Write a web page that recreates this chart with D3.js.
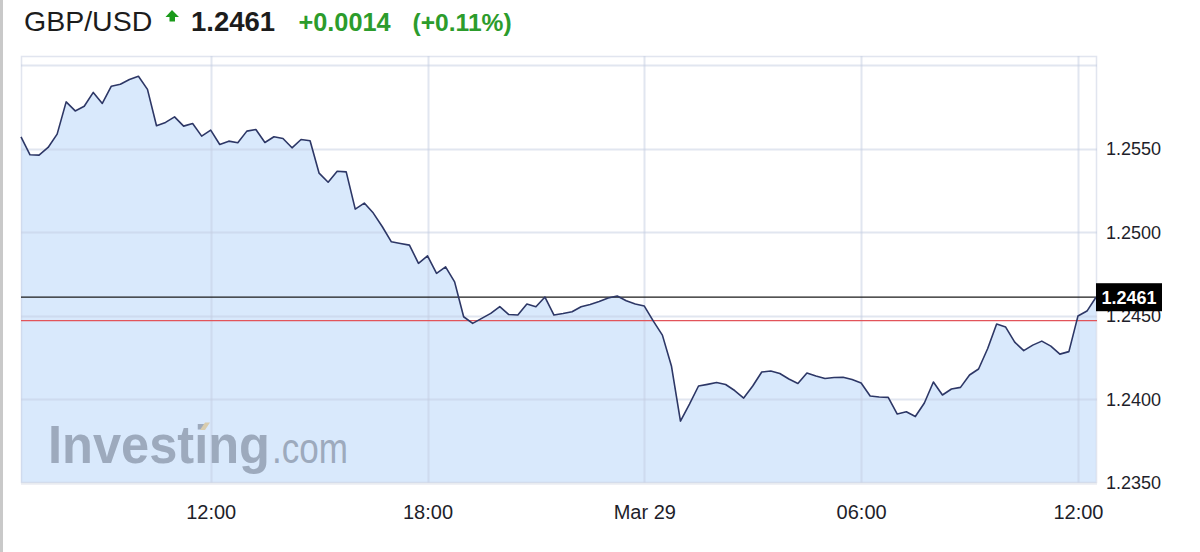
<!DOCTYPE html>
<html>
<head>
<meta charset="utf-8">
<script src="https://cdn.jsdelivr.net/npm/d3@7"></script>
<style>
  html, body { margin: 0; padding: 0; background: #fff; }
  svg { display: block; font-family: "Liberation Sans", Arial, sans-serif; }
</style>
</head>
<body>
<svg id="chart" width="1200" height="552"></svg>
<script>
// ---- data ----
const times = [
  "03-28 06:45","03-28 07:00","03-28 07:15","03-28 07:30","03-28 07:45","03-28 08:00","03-28 08:15","03-28 08:30",
  "03-28 08:45","03-28 09:00","03-28 09:15","03-28 09:30","03-28 09:45","03-28 10:00","03-28 10:15","03-28 10:30",
  "03-28 10:45","03-28 11:00","03-28 11:15","03-28 11:30","03-28 11:45","03-28 12:00","03-28 12:15","03-28 12:30",
  "03-28 12:45","03-28 13:00","03-28 13:15","03-28 13:30","03-28 13:45","03-28 14:00","03-28 14:15","03-28 14:30",
  "03-28 14:45","03-28 15:00","03-28 15:15","03-28 15:30","03-28 15:45","03-28 16:00","03-28 16:15","03-28 16:30",
  "03-28 16:45","03-28 17:00","03-28 17:15","03-28 17:30","03-28 17:45","03-28 18:00","03-28 18:15","03-28 18:30",
  "03-28 18:45","03-28 19:00","03-28 19:15","03-28 19:30","03-28 19:45","03-28 20:00","03-28 20:15","03-28 20:30",
  "03-28 20:45","03-28 21:00","03-28 21:15","03-28 21:30","03-28 21:45","03-28 22:00","03-28 22:15","03-28 22:30",
  "03-28 22:45","03-28 23:00","03-28 23:15","03-28 23:30","03-28 23:45","03-29 00:00","03-29 00:15","03-29 00:30",
  "03-29 00:45","03-29 01:00","03-29 01:15","03-29 01:30","03-29 01:45","03-29 02:00","03-29 02:15","03-29 02:30",
  "03-29 02:45","03-29 03:00","03-29 03:15","03-29 03:30","03-29 03:45","03-29 04:00","03-29 04:15","03-29 04:30",
  "03-29 04:45","03-29 05:00","03-29 05:15","03-29 05:30","03-29 05:45","03-29 06:00","03-29 06:15","03-29 06:30",
  "03-29 06:45","03-29 07:00","03-29 07:15","03-29 07:30","03-29 07:45","03-29 08:00","03-29 08:15","03-29 08:30",
  "03-29 08:45","03-29 09:00","03-29 09:15","03-29 09:30","03-29 09:45","03-29 10:00","03-29 10:15","03-29 10:30",
  "03-29 10:45","03-29 11:00","03-29 11:15","03-29 11:30","03-29 11:45","03-29 12:00","03-29 12:15","03-29 12:30"
];
const prices = [
  1.25571,1.25463,1.25461,1.25507,1.25587,1.25780,1.25726,1.25754,
  1.25837,1.25771,1.25874,1.25886,1.25914,1.25934,1.25855,1.25637,
  1.25657,1.25690,1.25635,1.25651,1.25575,1.25611,1.25525,1.25545,
  1.25535,1.25605,1.25615,1.25537,1.25571,1.25561,1.25505,1.25555,
  1.25547,1.25353,1.25299,1.25365,1.25361,1.25138,1.25174,1.25114,
  1.25032,1.24942,1.24932,1.24922,1.24813,1.24858,1.24753,1.24792,
  1.24702,1.24493,1.24453,1.24483,1.24513,1.24554,1.24506,1.24503,
  1.24569,1.24553,1.24611,1.24503,1.24512,1.24523,1.24553,1.24566,
  1.24584,1.24605,1.24617,1.24589,1.24569,1.24557,1.24467,1.24383,
  1.24198,1.23868,1.23970,1.24078,1.24088,1.24099,1.24087,1.24051,
  1.24006,1.24078,1.24162,1.24168,1.24153,1.24120,1.24093,1.24156,
  1.24138,1.24123,1.24129,1.24130,1.24117,1.24096,1.24018,1.24012,
  1.24010,1.23910,1.23924,1.23895,1.23976,1.24102,1.24024,1.24060,
  1.24070,1.24144,1.24180,1.24301,1.24449,1.24431,1.24341,1.24290,
  1.24323,1.24347,1.24317,1.24269,1.24284,1.24497,1.24527,1.24610
];
const xTickTimes = ["03-28 12:00","03-28 18:00","03-29 00:00","03-29 06:00","03-29 12:00"];
const xTickLabels = ["12:00","18:00","Mar 29","06:00","12:00"];
const yGridValues = [1.2350, 1.2400, 1.2450, 1.2500, 1.2550, 1.2600];
const yTickLabels = ["1.2350","1.2400","1.2450","1.2500","1.2550"];
const lastPrice = 1.2461;
const prevClose = 1.2447;
const header = { symbol: "GBP/USD", last: "1.2461", change: "+0.0014", pct: "(+0.11%)" };

// ---- setup ----
const parse = d3.timeParse("%m-%d %H:%M");
const data = times.map((t, i) => ({ t: parse(t), v: prices[i] }));
const svg = d3.select("#chart");
const L = 21, R = 1097, T = 56, B = 483;

const x = d3.scaleTime().domain(d3.extent(data, d => d.t)).range([L, R - 1]);
const y = d3.scaleLinear().domain([1.2350, 1.26055]).range([482.5, T]);

// page left border
svg.append("rect").attr("x", 0).attr("y", 0).attr("width", 3).attr("height", 552).attr("fill", "#c9c9c9");

// header
const hd = svg.append("g");
hd.append("text").attr("x", 24).attr("y", 31).attr("font-size", 28.5).attr("fill", "#1c1c1c").text(header.symbol);
hd.append("path").attr("d", "M172,10 L179,17 L175,17 L175,21.5 L169.5,21.5 L169.5,17 L165.5,17 Z").attr("fill", "#1a9a1a");
hd.append("text").attr("x", 191).attr("y", 31).attr("font-size", 27.5).attr("font-weight", "bold").attr("fill", "#1c1c1c").text(header.last);
hd.append("text").attr("x", 298.5).attr("y", 31).attr("font-size", 25.3).attr("font-weight", "bold").attr("fill", "#2c9c2c").text(header.change);
hd.append("text").attr("x", 412.5).attr("y", 31).attr("font-size", 24.6).attr("font-weight", "bold").attr("fill", "#2c9c2c").text(header.pct);

// area
const area = d3.area().x(d => x(d.t)).y0(B).y1(d => y(d.v));
svg.append("path").datum(data).attr("d", area).attr("fill", "#d9e9fc");

// frame
svg.append("rect").attr("x", L + 0.5).attr("y", T + 0.5).attr("width", R - L - 1).attr("height", B - T - 1)
  .attr("fill", "none").attr("stroke", "rgba(200,208,225,0.55)").attr("stroke-width", 1.5);

// grid
const grid = svg.append("g");
grid.selectAll("line.h").data(yGridValues).join("line")
  .attr("x1", L).attr("x2", R).attr("y1", d => Math.round(y(d)) + 0.5).attr("y2", d => Math.round(y(d)) + 0.5)
  .attr("stroke", "rgba(195,205,225,0.5)").attr("stroke-width", 2);
grid.selectAll("line.v").data(xTickTimes).join("line")
  .attr("x1", d => Math.round(x(parse(d))) + 0.5).attr("x2", d => Math.round(x(parse(d))) + 0.5)
  .attr("y1", T).attr("y2", B)
  .attr("stroke", "rgba(195,205,225,0.5)").attr("stroke-width", 2);

// bottom shadow
svg.append("line").attr("x1", L).attr("x2", R).attr("y1", B + 0.5).attr("y2", B + 0.5).attr("stroke", "#e9ecf0").attr("stroke-width", 1.5);

// watermark
const wm = svg.append("g").attr("fill", "#9daabd");
wm.append("text").attr("x", 48).attr("y", 463).attr("font-size", 53).attr("font-weight", "bold")
  .attr("textLength", 222).attr("lengthAdjust", "spacingAndGlyphs").text("Investing");
wm.append("text").attr("x", 272).attr("y", 463).attr("font-size", 42)
  .attr("textLength", 76).attr("lengthAdjust", "spacingAndGlyphs").text(".com");
wm.append("path").attr("d", "M200,430 L205,422.5 L210,422.5 L205,430 Z").attr("fill", "#d8ccae");

// reference lines
svg.append("line").attr("x1", L).attr("x2", R).attr("y1", y(prevClose)).attr("y2", y(prevClose))
  .attr("stroke", "#e2545a").attr("stroke-width", 1.2);
svg.append("line").attr("x1", L).attr("x2", R).attr("y1", y(lastPrice)).attr("y2", y(lastPrice))
  .attr("stroke", "#1a1a1a").attr("stroke-width", 1.3);

// price line
const line = d3.line().x(d => x(d.t)).y(d => y(d.v));
svg.append("path").datum(data).attr("d", line).attr("fill", "none")
  .attr("stroke", "#2d3766").attr("stroke-width", 1.6).attr("stroke-linejoin", "round");

// x axis
const xAxis = d3.axisBottom(x).tickValues(xTickTimes.map(parse))
  .tickFormat((d, i) => xTickLabels[i]).tickSize(0).tickPadding(0);
const gx = svg.append("g").attr("transform", `translate(0,${505})`).call(xAxis);
gx.select(".domain").remove();
gx.selectAll("text").attr("font-size", 20).attr("fill", "#1e1e2a")
  .attr("font-family", "Liberation Sans, Arial, sans-serif").attr("dy", "0.71em");

// y axis
const yAxis = d3.axisRight(y).tickValues(yTickLabels.map(Number))
  .tickFormat((d, i) => yTickLabels[i]).tickSize(0).tickPadding(0);
const gy = svg.append("g").attr("transform", `translate(1106,0)`).call(yAxis);
gy.select(".domain").remove();
gy.selectAll("text").attr("font-size", 18).attr("fill", "#1e1e2a")
  .attr("font-family", "Liberation Sans, Arial, sans-serif").attr("dy", "0.35em");

// last price label
const ly = y(lastPrice);
svg.append("rect").attr("x", 1096).attr("y", ly - 14).attr("width", 66).attr("height", 28).attr("fill", "#000");
svg.append("text").attr("x", 1129).attr("y", ly).attr("dy", "0.36em").attr("text-anchor", "middle")
  .attr("font-size", 18).attr("font-weight", "bold").attr("fill", "#fff").text(header.last);
</script>
</body>
</html>
